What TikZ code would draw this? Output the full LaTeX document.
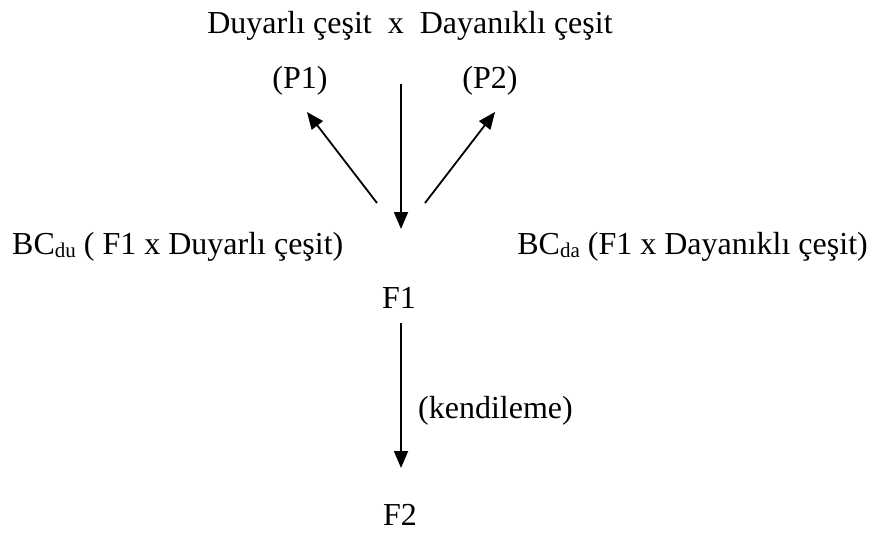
\documentclass[tikz,border=0pt]{standalone}
\usepackage{fontspec}
\setmainfont{Liberation Serif}
\usetikzlibrary{arrows.meta}
\tikzset{
  lbl/.style={inner sep=0pt, font=\fontsize{32}{38}\selectfont},
  arr/.style={line width=1.8pt, -{Triangle[length=17pt,width=14pt]}}
}
\newcommand{\mysub}[1]{\raisebox{-0.12em}{\fontsize{21}{24}\selectfont #1}}
\begin{document}
\begin{tikzpicture}[x=1pt,y=-1pt]
\useasboundingbox (0,0) rectangle (877,533);
\node[lbl, anchor=base] (title) at (410,33) {Duyarlı çeşit\ \ x\ \ Dayanıklı çeşit};
\node[lbl, anchor=base] (p1) at (300,88) {(P1)};
\node[lbl, anchor=base] (p2) at (490,88) {(P2)};
\node[lbl, anchor=base west] (bcdu) at (12,254) {BC\mysub{du} ( F1 x Duyarlı çeşit)};
\node[lbl, anchor=base east] (bcda) at (868,254) {BC\mysub{da} (F1 x Dayanıklı çeşit)};
\node[lbl, anchor=base] (f1) at (399,308) {F1};
\node[lbl, anchor=base] (f2) at (400,525) {F2};
\node[lbl, anchor=base west] (kend) at (418,418) {(kendileme)};
\coordinate (ctop) at (401,84);
\coordinate (cbot) at (401,229);
\coordinate (lstart) at (377,203);
\coordinate (ltip) at (307,112);
\coordinate (rstart) at (425,203);
\coordinate (rtip) at (495,112);
\coordinate (dtop) at (401,323);
\coordinate (dbot) at (401,468);
\draw[arr] (ctop) -- (cbot);
\draw[arr] (lstart) -- (ltip);
\draw[arr] (rstart) -- (rtip);
\draw[arr] (dtop) -- (dbot);
\end{tikzpicture}
\end{document}
